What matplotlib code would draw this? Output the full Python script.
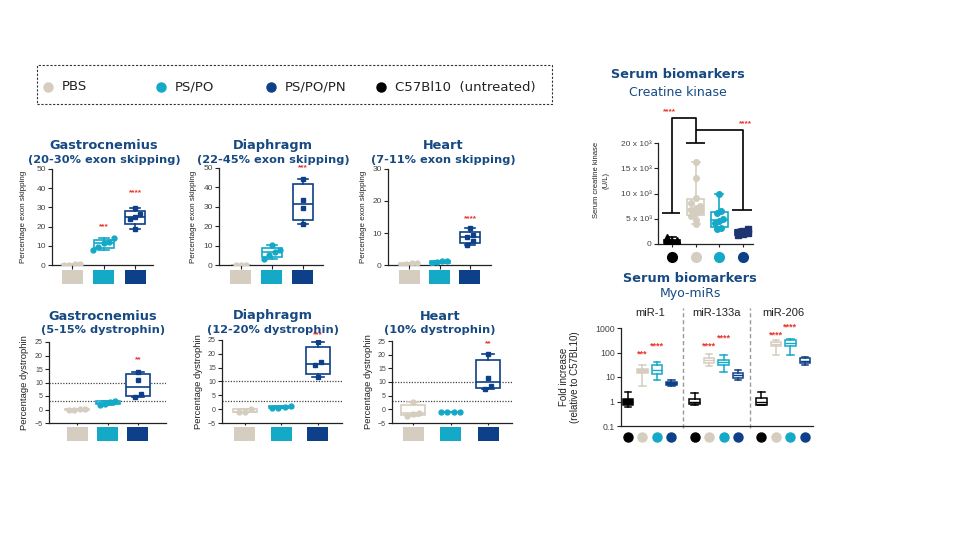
import numpy as np
import matplotlib
matplotlib.use("Agg")
import matplotlib.pyplot as plt
from matplotlib.patches import Rectangle
from matplotlib.lines import Line2D
import matplotlib.transforms as mtransforms

W, H = 960, 540

# ---------------- data ----------------
legend_labels = ["PBS", "PS/PO", "PS/PO/PN", "C57Bl10  (untreated)"]
group_colors = ["#d5cdbf", "#13a9c7", "#0d4088", "#000000"]
group_markers = ["o", "o", "s", "o"]

exon_titles = ["Gastrocnemius", "Diaphragm", "Heart"]
exon_subtitles = ["(20-30% exon skipping)", "(22-45% exon skipping)", "(7-11% exon skipping)"]
exon_gastro = [[0.1, 0.2, 0.3, 0.4], [7.8, 9.6, 11.3, 12.1, 13.9], [18.8, 24.0, 24.8, 26.7, 29.9]]
exon_diaph = [[0.1, 0.2, 0.2], [3.3, 5.1, 6.5, 7.8, 10.2], [21.3, 29.2, 33.7, 44.3]]
exon_heart = [[0.1, 0.3, 0.5, 0.6], [0.5, 0.9, 1.1, 1.3], [6.25, 7.35, 8.6, 9.3, 11.5]]
exon_stars = [["", "***", "****"], ["", "", "***"], ["", "", "****"]]
exon_star_y = [[0, 20, 37.5], [0, 0, 50], [0, 0, 14.6]]
exon_ymax = [50, 50, 30]
exon_yticks = [[0, 10, 20, 30, 40, 50], [0, 10, 20, 30, 40, 50], [0, 10, 20, 30]]

dys_titles = ["Gastrocnemius", "Diaphragm", "Heart"]
dys_subtitles = ["(5-15% dystrophin)", "(12-20% dystrophin)", "(10% dystrophin)"]
dys_gastro = [[-0.3, 0.0, 0.1, 0.3], [1.8, 2.2, 2.6, 3.2], [4.8, 5.8, 11.1, 14.0]]
dys_diaph = [[-1.1, -0.9, 0.1], [0.3, 0.6, 0.9, 1.0], [11.5, 16.0, 17.0, 24.2]]
dys_heart = [[-2.3, -1.6, -1.4, 2.8], [-1.1, -1.0, -1.0, -0.9], [7.5, 8.5, 11.5, 20.4]]
dys_stars = [["", "", "**"], ["", "", "***"], ["", "", "**"]]
dys_star_y = [[0, 0, 18.3], [0, 0, 26.8], [0, 0, 24]]
dys_refs = [3, 10]
dys_yticks = [-5, 0, 5, 10, 15, 20, 25]

ck_black = [100, 250, 350, 500, 600, 800, 1300]
ck_pbs = [4000, 4800, 5500, 6100, 6500, 6800, 7100, 7500, 8100, 9100, 13100, 16200]
ck_pspo = [3000, 3100, 4200, 4500, 4900, 6100, 6500, 9900]
ck_pn = [1700, 1900, 2100, 2300, 2600, 2900]
ck_yticks = [0, 5000, 10000, 15000, 20000]
ck_yticklabels = ["0", "5 x 10³", "10 x 10³", "15 x 10³", "20 x 10³"]

mir_names = ["miR-1", "miR-133a", "miR-206"]
# order within each miR: C57Bl10, PBS, PS/PO, PS/PO/PN
mir_whislo = [[0.60, 4.3, 7.8, 4.3], [0.69, 28, 16, 7.3], [0.69, 80, 80, 31.6]]
mir_q1 = [[0.73, 15, 13.6, 4.9], [0.78, 38, 31.6, 9.1], [0.73, 181, 181, 38]]
mir_med = [[0.95, 18, 20, 5.5], [1.0, 49, 40, 11.7], [1.0, 225, 246, 47]]
mir_q3 = [[1.28, 22, 31, 6.3], [1.28, 59, 50, 15], [1.36, 279, 335, 59]]
mir_whishi = [[2.4, 31, 40, 7.3], [2.3, 88, 80, 18.6], [2.5, 335, 357, 67]]
mir_stars = [["", "***", "****", ""], ["", "****", "****", ""], ["", "****", "****", ""]]
mir_star_y = [[0, 88, 192, 0], [0, 175, 380, 0], [0, 520, 1130, 0]]

TITLE = "#174a82"
STAR = "#e8342c"
AXC = "#222222"
TICKC = "#444444"

plt.rcParams["font.family"] = ["Liberation Sans", "DejaVu Sans"]
fig = plt.figure(figsize=(W / 100, H / 100), dpi=100)
fig.patch.set_facecolor("white")


def add_ax(l, t, r, b):
    return fig.add_axes([l / W, 1 - b / H, (r - l) / W, (b - t) / H])


def ftext(x, y, s, **kw):
    fig.text(x / W, 1 - y / H, s, **kw)


def style_ax(ax, fs):
    for s in ["top", "right"]:
        ax.spines[s].set_visible(False)
    for s in ["left", "bottom"]:
        ax.spines[s].set_linewidth(0.9)
        ax.spines[s].set_color(AXC)
    ax.tick_params(labelsize=fs, colors=AXC, labelcolor=TICKC, length=3, width=0.8, pad=1.5)
    ax.minorticks_off()


def offsets(vals, thr):
    vals = np.asarray(vals, float)
    order = np.argsort(vals)
    off = np.zeros(len(vals))
    clusters = [[order[0]]]
    for i in order[1:]:
        if vals[i] - vals[clusters[-1][-1]] < thr:
            clusters[-1].append(i)
        else:
            clusters.append([i])
    for c in clusters:
        k = len(c)
        if k == 1:
            continue
        if k <= 5:
            o = (np.arange(k) - (k - 1) / 2) * 0.17
        else:
            o = np.array([(-0.2, 0.0, 0.2)[j % 3] for j in range(k)])
        for j, idx in enumerate(c):
            off[idx] = o[j]
    return off


def draw_group(ax, pos, vals, color, marker, width, face="white", ms=3.5, thr=1.0, lw=1.2):
    vals = np.asarray(vals, float)
    q1, med, q3 = np.percentile(vals, [25, 50, 75], method="weibull")
    stats = [dict(med=med, q1=q1, q3=q3, whislo=vals.min(), whishi=vals.max(), fliers=[])]
    ax.bxp(stats, positions=[pos], widths=width, patch_artist=True, showfliers=False,
           boxprops=dict(facecolor=face, edgecolor=color, linewidth=lw),
           medianprops=dict(color=color, linewidth=lw),
           whiskerprops=dict(color=color, linewidth=lw),
           capprops=dict(color=color, linewidth=lw), capwidths=width * 0.5, manage_ticks=False)
    off = offsets(vals, thr)
    ax.plot(pos + off, vals, ls="none", marker=marker, ms=ms, color=color, zorder=5)


def squares(ax, sq_w, y0, h):
    trans = mtransforms.blended_transform_factory(ax.transData, ax.transAxes)
    for i in range(3):
        ax.add_patch(Rectangle((i + 1 - sq_w / 2, y0), sq_w, h, transform=trans,
                               facecolor=group_colors[i], edgecolor="none", clip_on=False))


# ---------------- legend ----------------
fig.add_artist(Rectangle((37 / W, 1 - 104 / H), (552 - 37) / W, (104 - 65) / H,
                         transform=fig.transFigure, fill=False, edgecolor="#333333",
                         linewidth=0.8, linestyle=(0, (2, 1.5))))
leg_order = [0, 1, 2, 3]
leg_x = [48, 161, 271, 381]
for k, i in enumerate(leg_order):
    fig.add_artist(Line2D([leg_x[k] / W], [1 - 87 / H], marker="o", ms=6.5, color=group_colors[i],
                          ls="none", transform=fig.transFigure))
    ftext(leg_x[k] + 14, 87, legend_labels[i], fontsize=9.5, family="DejaVu Sans",
          color="#222222", va="center", ha="left")

# ---------------- exon skipping row ----------------
exon_data = [exon_gastro, exon_diaph, exon_heart]
exon_boxes = [(52, 169, 153, 265), (219, 168, 323, 265), (388, 169, 491, 265)]
exon_xlims = [(0.365, 3.57), (0.29, 3.65), (0.31, 3.69)]
exon_title_x = [104, 273, 443]
exon_label_px = [27, 197, 367]
for p in range(3):
    l, t, r, b = exon_boxes[p]
    ax = add_ax(l, t, r, b)
    style_ax(ax, 6)
    x0, x1 = exon_xlims[p]
    ax.set_xlim(x0, x1)
    ax.set_ylim(0, exon_ymax[p])
    ax.set_yticks(exon_yticks[p])
    ax.set_xticks([1, 2, 3])
    ax.set_xticklabels([])
    unit = (r - l) / (x1 - x0)
    for g in range(3):
        draw_group(ax, g + 1, exon_data[p][g], group_colors[g], group_markers[g],
                   20 / unit, ms=3.5, thr=exon_ymax[p] * 0.04)
        if exon_stars[p][g]:
            ax.text(g + 1, exon_star_y[p][g], exon_stars[p][g], color=STAR, fontsize=6,
                    ha="center", va="center", fontweight="bold", clip_on=False)
    squares(ax, 21 / unit, -(19 / (b - t)), 14 / (b - t))
    ax.set_ylabel("Percentage exon skipping", fontsize=5.8, color="#222222")
    ax.yaxis.set_label_coords((exon_label_px[p] - l) / (r - l), 0.5)
    ftext(exon_title_x[p], 145, exon_titles[p], fontsize=9.3, fontweight="bold",
          family="DejaVu Sans", color=TITLE, ha="center", va="center")
    ftext(exon_title_x[p], 160, exon_subtitles[p], fontsize=8.2, fontweight="bold",
          family="DejaVu Sans", color=TITLE, ha="center", va="center")

# ---------------- dystrophin row ----------------
dys_data = [dys_gastro, dys_diaph, dys_heart]
dys_boxes = [(49, 342, 166, 423), (222, 340, 342, 423), (392, 341, 512, 423)]
dys_xlims = [(0.08, 3.92), (0.37, 3.66), (0.44, 3.64)]
dys_title_x = [103, 273, 440]
dys_label_px = [29, 203, 373]
for p in range(3):
    l, t, r, b = dys_boxes[p]
    ax = add_ax(l, t, r, b)
    style_ax(ax, 5)
    x0, x1 = dys_xlims[p]
    ax.set_xlim(x0, x1)
    ax.set_ylim(-5, 25)
    ax.set_yticks(dys_yticks)
    ax.set_xticks([1, 2, 3])
    ax.set_xticklabels([])
    ax.tick_params(axis="x", length=1.5)
    unit = (r - l) / (x1 - x0)
    for v in dys_refs:
        ax.axhline(v, color="#444444", lw=0.9, ls=(0, (1, 1.2)), zorder=1)
    for g in range(3):
        draw_group(ax, g + 1, dys_data[p][g], group_colors[g], group_markers[g],
                   24 / unit, ms=3.5, thr=1.2)
        if dys_stars[p][g]:
            ax.text(g + 1, dys_star_y[p][g], dys_stars[p][g], color=STAR, fontsize=6,
                    ha="center", va="center", fontweight="bold", clip_on=False)
    squares(ax, 21 / unit, -(18 / (b - t)), 14 / (b - t))
    ax.set_ylabel("Percentage dystrophin", fontsize=6.8, color="#222222")
    ax.yaxis.set_label_coords((dys_label_px[p] - l) / (r - l), 0.5)
    ftext(dys_title_x[p], 316, dys_titles[p], fontsize=9.3, fontweight="bold",
          family="DejaVu Sans", color=TITLE, ha="center", va="center")
    ftext(dys_title_x[p], 330, dys_subtitles[p], fontsize=8.2, fontweight="bold",
          family="DejaVu Sans", color=TITLE, ha="center", va="center")

# ---------------- creatine kinase ----------------
ftext(678, 75, "Serum biomarkers", fontsize=9.3, fontweight="bold", family="DejaVu Sans",
      color=TITLE, ha="center", va="center")
ftext(678, 92, "Creatine kinase", fontsize=9, family="DejaVu Sans", color=TITLE,
      ha="center", va="center")
l, t, r, b = 658, 143, 753, 244
ax = add_ax(l, t, r, b)
style_ax(ax, 6)
ax.set_xlim(0.4, 4.43)
ax.set_ylim(0, 20000)
ax.set_yticks(ck_yticks)
ax.set_yticklabels(ck_yticklabels)
ax.set_xticks([1, 2, 3, 4])
ax.set_xticklabels([])
ax.tick_params(axis="x", length=2)
ck_sets = [ck_black, ck_pbs, ck_pspo, ck_pn]
ck_colors = [group_colors[3], group_colors[0], group_colors[1], group_colors[2]]
ck_markers = ["^", "o", "o", "s"]
ck_faces = ["#000000", "white", "white", "#1d3470"]
for g in range(4):
    draw_group(ax, g + 1, ck_sets[g], ck_colors[g] if g != 3 else "#1d3470", ck_markers[g],
               0.7, face=ck_faces[g], ms=4, thr=700)
trans = mtransforms.blended_transform_factory(ax.transData, ax.transAxes)
for g in range(4):
    ax.plot([g + 1], [-0.13], marker="o", ms=7, color=ck_colors[g], transform=trans, clip_on=False)
bk = dict(color="black", lw=1.2, clip_on=False, solid_capstyle="butt")
ax.plot([1, 1, 2, 2], [6200, 24890, 24890, 19940], **bk)
ax.plot([0.55, 1.35], [6200, 6200], **bk)
ax.plot([1.6, 2.4], [19940, 19940], **bk)
ax.plot([2, 4, 4], [22570, 22570, 6730], **bk)
ax.plot([3.56, 4.4], [6730, 6730], **bk)
ax.text(0.9, 26200, "****", color=STAR, fontsize=6, fontweight="bold", ha="center", va="center")
ax.text(4.1, 23900, "****", color=STAR, fontsize=6, fontweight="bold", ha="center", va="center")
ax.set_ylabel("Serum creatine kinase\n(U/L)", fontsize=5.5, color="#222222", linespacing=1.3)
ax.yaxis.set_label_coords((609 - l) / (r - l), 0.63)

# ---------------- myo-miRs ----------------
ftext(690, 278, "Serum biomarkers", fontsize=9.3, fontweight="bold", family="DejaVu Sans",
      color=TITLE, ha="center", va="center")
ftext(690, 294, "Myo-miRs", fontsize=9, family="DejaVu Sans", color=TITLE,
      ha="center", va="center")
l, t, r, b = 621, 328, 813, 426
ax = add_ax(l, t, r, b)
style_ax(ax, 6.3)
ax.set_yscale("log")
ax.set_ylim(0.1, 1000)
ax.set_yticks([0.1, 1, 10, 100, 1000])
ax.set_yticklabels(["0.1", "1", "10", "100", "1000"])
ax.minorticks_off()
ax.set_xlim(-0.48, 12.76)
ax.set_xticks([])
mir_colors = [group_colors[3], group_colors[0], group_colors[1], group_colors[2]]
trans = mtransforms.blended_transform_factory(ax.transData, ax.transAxes)
for m in range(3):
    for i in range(4):
        pos = m * 4.6 + i
        col = mir_colors[i]
        face = col if m == 0 and i in (0, 1, 3) else "white"
        stats = [dict(med=mir_med[m][i], q1=mir_q1[m][i], q3=mir_q3[m][i],
                      whislo=mir_whislo[m][i], whishi=mir_whishi[m][i], fliers=[])]
        ax.bxp(stats, positions=[pos], widths=0.72, patch_artist=True, showfliers=False,
               boxprops=dict(facecolor=face, edgecolor=col, linewidth=1.1),
               medianprops=dict(color=col, linewidth=1.0),
               whiskerprops=dict(color=col, linewidth=1.1),
               capprops=dict(color=col, linewidth=1.1), capwidths=0.45, manage_ticks=False)
        ax.plot([pos], [-0.11], marker="o", ms=6.5, color=col, transform=trans, clip_on=False)
        if mir_stars[m][i]:
            ax.text(pos, mir_star_y[m][i], mir_stars[m][i], color=STAR, fontsize=6.5,
                    fontweight="bold", ha="center", va="center")
    ax.text(m * 4.6 + 1.5, 1.15, mir_names[m], transform=trans, fontsize=8,
            ha="center", va="center", color="#222222")
for sx in (3.8, 8.4):
    ax.plot([sx, sx], [-0.02, 1.2], transform=trans, color="#999999", lw=1,
            ls=(0, (3, 2)), clip_on=False)
ax.set_ylabel("Fold increase\n(relative to C57BL10)", fontsize=7, color="#222222", linespacing=1.1)
ax.yaxis.set_label_coords((580 - l) / (r - l), 0.5)

fig.savefig("out.png", dpi=100, facecolor="white")
